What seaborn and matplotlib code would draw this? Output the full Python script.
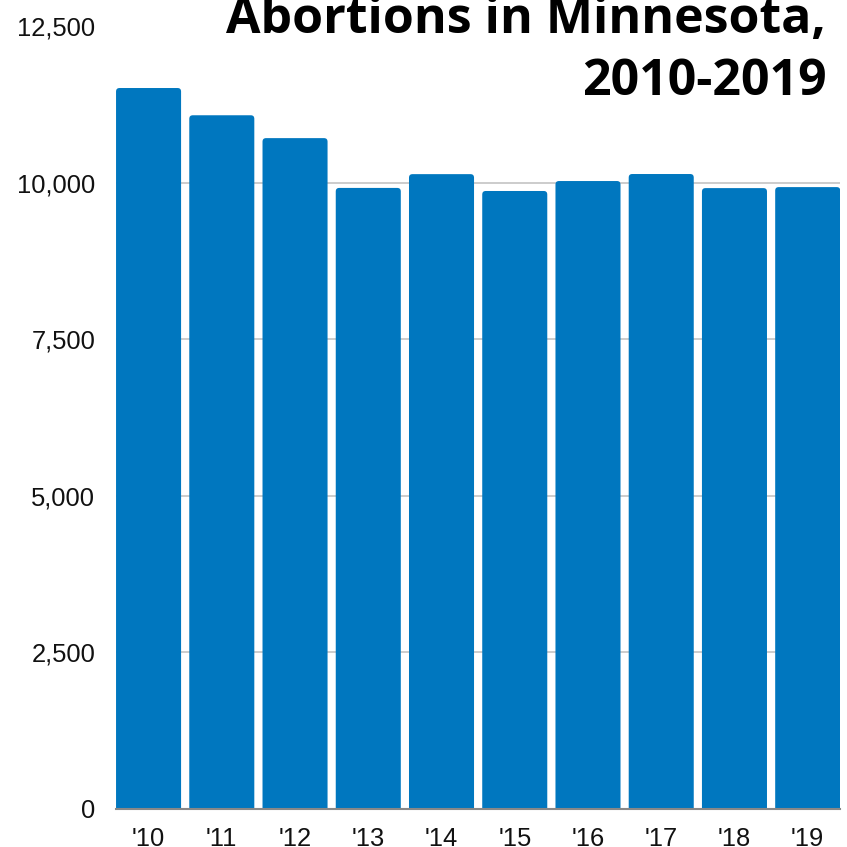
import pandas as pd
import matplotlib
matplotlib.use("Agg")
import matplotlib.pyplot as plt
from matplotlib.patches import FancyBboxPatch
import seaborn as sns

# ----------------------------------------------------
# DATA
# ----------------------------------------------------

years = ["'10", "'11", "'12", "'13", "'14", "'15", "'16", "'17", "'18", "'19"]
abortions = [11510, 11075, 10710, 9915, 10135, 9866, 10025, 10137, 9912, 9928]
y_ticks = [0, 2500, 5000, 7500, 10000, 12500]
y_labels = ["0", "2,500", "5,000", "7,500", "10,000", "12,500"]

df = pd.DataFrame({"year": years, "abortions": abortions})

BAR_COLOR = "#0077bf"

# ----------------------------------------------------
# PLOT
# ----------------------------------------------------

sns.set_theme(style="white")
plt.rcParams["font.family"] = ["Liberation Sans", "DejaVu Sans"]

fig = plt.figure(figsize=(8.47, 8.47), dpi=100)
ax = fig.add_axes([0.137, 0.0449, 0.855, 0.9244])

bar_w = 0.888
sns.barplot(data=df, x="year", y="abortions", color=BAR_COLOR,
            width=bar_w, saturation=1, ax=ax)

# rounded top corners: swap rectangles for rounded boxes, bottom pushed below axis
px_x = 0.855 * 847 / (9 + bar_w)
px_y = 0.9244 * 847 / 12500
for p in list(ax.patches):
    x0, w, h = p.get_x(), p.get_width(), p.get_height()
    fb = FancyBboxPatch((x0, -200), w, h + 200,
                        boxstyle="round,pad=0,rounding_size=%f" % (3.5 / px_x),
                        mutation_aspect=px_x / px_y,
                        facecolor=BAR_COLOR, edgecolor="none", zorder=2)
    p.remove()
    ax.add_patch(fb)

ax.set_xlim(-bar_w / 2, 9 + bar_w / 2)
ax.set_ylim(0, 12500)
ax.set_yticks(y_ticks)
ax.set_yticklabels(y_labels)

for yv in y_ticks[1:-1]:
    ax.axhline(yv, color="#c8c8c8", lw=1.3, zorder=1)

for side in ["top", "right", "left"]:
    ax.spines[side].set_visible(False)
ax.spines["bottom"].set_color("#888888")
ax.spines["bottom"].set_linewidth(1.5)
ax.spines["bottom"].set_zorder(3)

ax.tick_params(axis="y", length=0, pad=15, labelsize=18.4, labelcolor="#111111")
ax.tick_params(axis="x", length=0, pad=13, labelsize=18.4, labelcolor="#111111")
ax.set_xlabel("")
ax.set_ylabel("")

# title, right aligned, top line partly cut by the figure edge
title_font = dict(family=["Open Sans", "DejaVu Sans"], weight="bold",
                  size=36, color="black", ha="right", va="baseline")
fig.text(826 / 847, 1 - 33 / 847, "Abortions in Minnesota,", **title_font)
fig.text(827 / 847, 1 - 95 / 847, "2010-2019", **title_font)

fig.savefig("out.png", dpi=100)
